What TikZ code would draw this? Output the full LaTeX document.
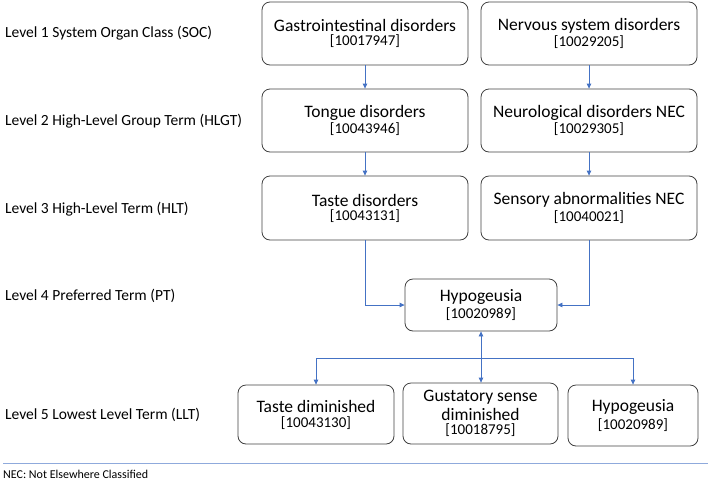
\documentclass[tikz,border=0pt]{standalone}
\usepackage{fontspec}
\setmainfont{Carlito}
\usetikzlibrary{arrows.meta}
\definecolor{arrblue}{HTML}{4472C4}
\definecolor{sepblue}{HTML}{8FAADC}
\definecolor{boxgray}{HTML}{404040}
\tikzset{
  box/.style={draw=boxgray, line width=0.8pt, rounded corners=8pt, align=center, inner sep=2pt},
  arr/.style={draw=arrblue, color=arrblue, line width=0.8pt, -{Triangle[length=5pt,width=4.5pt]}},
  lvl/.style={anchor=west, font=\fontsize{15.5}{18}\selectfont, inner sep=0pt},
}
\newcommand{\code}[1]{{\fontsize{15}{18}\selectfont #1}}
\newcommand{\ttlf}{\fontsize{17.5}{20}\selectfont}
\begin{document}
\begin{tikzpicture}[x=1pt,y=-1pt]
\useasboundingbox (0,0) rectangle (709,480);
% level labels
\node[lvl] (l1) at (5,33) {Level 1 System Organ Class (SOC)};
\node[lvl] (l2) at (5,121) {Level 2 High-Level Group Term (HLGT)};
\node[lvl] (l3) at (5,209) {Level 3 High-Level Term (HLT)};
\node[lvl] (l4) at (5,296) {Level 4 Preferred Term (PT)};
\node[lvl] (l5) at (5,415) {Level 5 Lowest Level Term (LLT)};
% boxes
\node[box, minimum width=206pt, minimum height=63pt] (gastro) at (365,33.5) {\ttlf Gastrointestinal disorders\\[2pt]\code{[10017947]}};
\node[box, minimum width=216pt, minimum height=63pt] (nervous) at (589,33.5) {\ttlf Nervous system disorders\\[2pt]\code{[10029205]}};
\node[box, minimum width=206pt, minimum height=63pt] (tongue) at (365,120.5) {\ttlf Tongue disorders\\[2pt]\code{[10043946]}};
\node[box, minimum width=216pt, minimum height=63pt] (neuro) at (589,120.5) {\ttlf Neurological disorders NEC\\[2pt]\code{[10029305]}};
\node[box, minimum width=206pt, minimum height=64pt] (taste) at (365,208) {\ttlf Taste disorders\\[2pt]\code{[10043131]}};
\node[box, minimum width=216pt, minimum height=64pt] (sensory) at (589,208) {\ttlf Sensory abnormalities NEC\\[2pt]\code{[10040021]}};
\node[box, minimum width=152pt, minimum height=52pt] (hypo) at (481,305) {\ttlf Hypogeusia\\[2pt]\code{[10020989]}};
\node[box, minimum width=156pt, minimum height=59pt] (tdim) at (316,414.5) {\ttlf Taste diminished\\[3pt]\code{[10043130]}};
\node[box, minimum width=155pt, minimum height=61pt, inner sep=0pt] (gust) at (480.5,413.5) {\ttlf Gustatory sense\\[3pt]\ttlf diminished\\[2pt]\code{[10018795]}};
\node[box, minimum width=130pt, minimum height=61pt] (hypo2) at (633,415.5) {\ttlf Hypogeusia\\[3pt]\code{[10020989]}};
% connectors
\draw[arr] (gastro.south) -- (tongue.north);
\draw[arr] (nervous.south) -- (neuro.north);
\draw[arr] (tongue.south) -- (taste.north);
\draw[arr] (neuro.south) -- (sensory.north);
\draw[arr] (taste.south) -- (taste.south |- hypo.west) -- (hypo.west);
\draw[arr] (sensory.south) -- (sensory.south |- hypo.east) -- (hypo.east);
\coordinate (jn) at (481,358);
\draw[arr] (jn) -- (hypo.south);
\draw[arr] (jn) -- (jn |- gust.north);
\draw[arr] (jn) -| (tdim.north);
\draw[arr] (jn) -| (hypo2.north);
% separator and footnote
\draw[sepblue, line width=0.8pt] (3,463) -- (708,463);
\node[anchor=west, inner sep=0pt, font=\fontsize{12}{14}\selectfont] (note) at (3,474) {NEC: Not Elsewhere Classified};
\end{tikzpicture}
\end{document}
